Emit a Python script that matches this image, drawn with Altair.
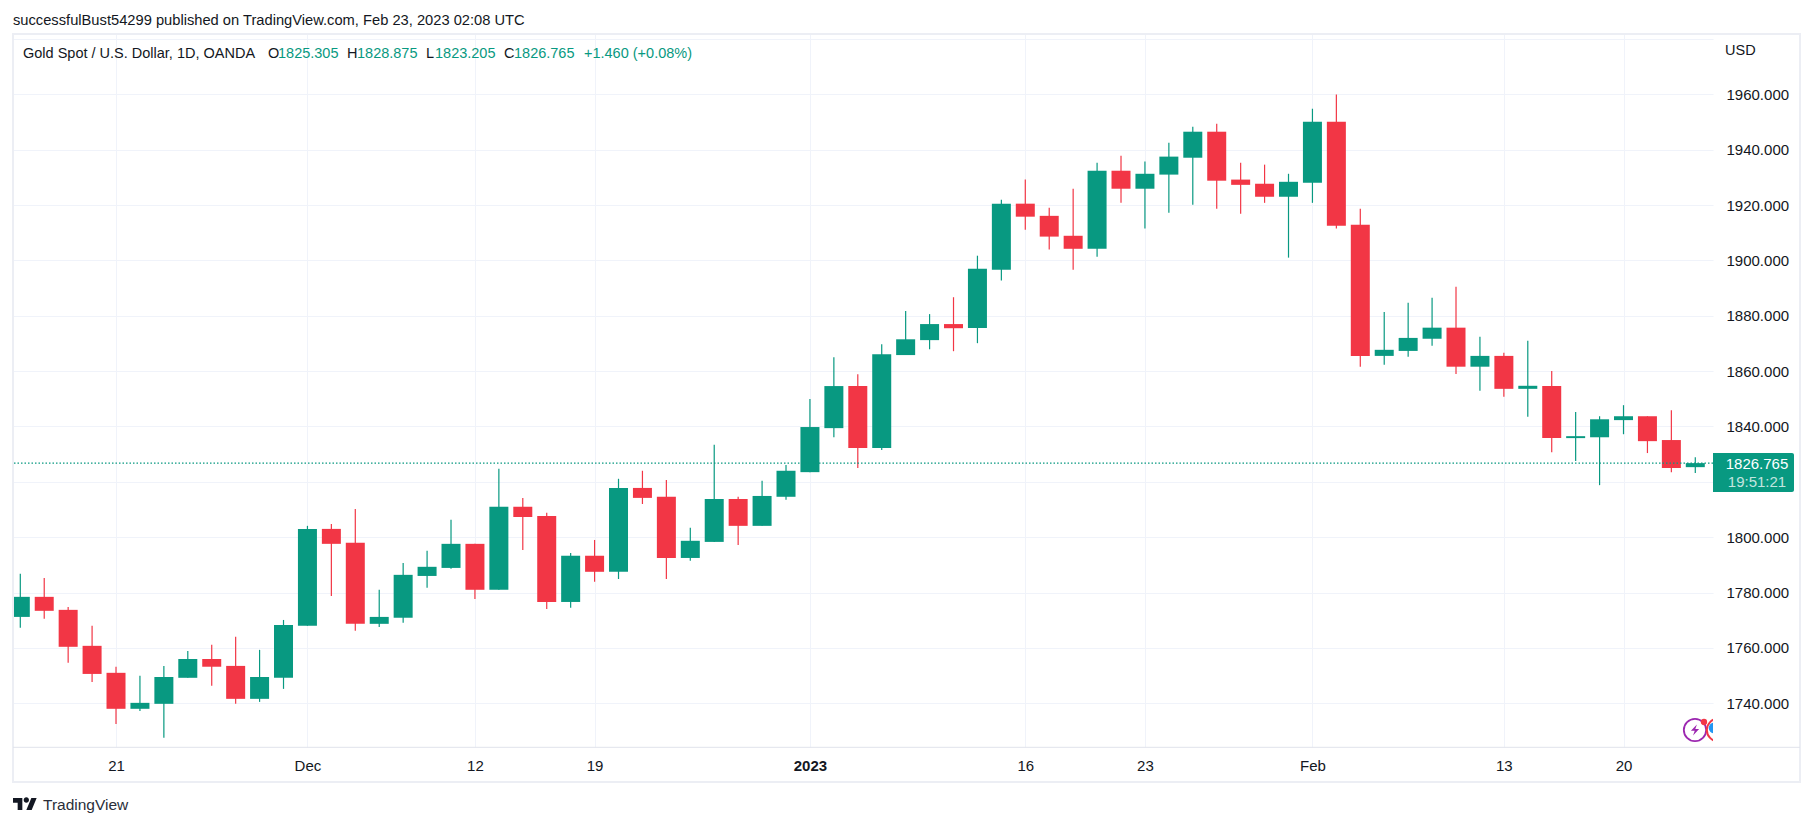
import altair as alt
import pandas as pd

dates = ["Nov 15","Nov 16","Nov 17","Nov 18","Nov 21","Nov 22","Nov 23","Nov 24","Nov 25","Nov 28","Nov 29","Nov 30",
         "Dec 1","Dec 2","Dec 5","Dec 6","Dec 7","Dec 8","Dec 9","Dec 12","Dec 13","Dec 14","Dec 15","Dec 16",
         "Dec 19","Dec 20","Dec 21","Dec 22","Dec 23","Dec 27","Dec 28","Dec 29","Dec 30",
         "Jan 3","Jan 4","Jan 5","Jan 6","Jan 9","Jan 10","Jan 11","Jan 12","Jan 13","Jan 16","Jan 17","Jan 18","Jan 19","Jan 20",
         "Jan 23","Jan 24","Jan 25","Jan 26","Jan 27","Jan 30","Jan 31",
         "Feb 1","Feb 2","Feb 3","Feb 6","Feb 7","Feb 8","Feb 9","Feb 10","Feb 13","Feb 14","Feb 15","Feb 16","Feb 17",
         "Feb 20","Feb 21","Feb 22","Feb 23"]
opens = [1771.2,1778.45,1773.75,1760.75,1751,1738,1739.8,1749.2,1756,1753.5,1741.6,1749.2,1768,1803,1798,1768.7,1770.9,1786,1788.9,1797.6,
         1781,1811,1807.7,1776.6,1793.3,1787.5,1817.8,1814.6,1792.5,1798.3,1813.8,1804.1,1814.6,
         1823.5,1839.4,1854.6,1832.2,1865.8,1871.2,1877,1875.6,1896.6,1920.5,1916.1,1908.9,1904.2,1932.4,
         1925.9,1931,1937.1,1946.5,1929.2,1927.7,1923,
         1928.1,1950.1,1912.9,1865.5,1867.3,1871.7,1875.7,1861.6,1865.5,1853.6,1854.6,1835.8,1836.1,1842.3,1843.7,1835.1,1825.305]
highs = [1786.75,1785.3,1774.8,1768,1753.2,1749.9,1753.5,1758.9,1761.1,1764,1759.3,1770.1,1804.1,1804.8,1810.2,1781,1790.7,1795.1,1806.3,1797.6,
         1824.7,1814.2,1808.8,1794.3,1799,1821.1,1824,1820.7,1803.4,1833.4,1814.6,1820.4,1826.1,
         1849.9,1865,1858.9,1869.7,1881.7,1880.6,1886.7,1901.7,1921.9,1929.2,1919,1925.9,1935.3,1937.8,
         1935.7,1942.5,1948.3,1949.4,1935.3,1934.6,1931.3,
         1954.8,1959.9,1918.7,1881.4,1884.7,1886.5,1890.5,1872.4,1866.6,1871,1860,1845.2,1843.7,1847.7,1843.7,1845.9,1828.875]
lows = [1767.25,1770.5,1754.6,1747.7,1732.5,1737.2,1727.5,1749.2,1746.3,1739.8,1740.5,1745.2,1768,1778.8,1766.2,1767.6,1769.1,1781.7,1788.6,1777.7,
        1781,1795.4,1774.1,1774.5,1783.9,1784.9,1812,1784.9,1791.5,1798.3,1797.2,1804.1,1813.5,
        1823.5,1836.1,1825,1831.5,1865.8,1867.9,1867.2,1870.1,1892.7,1911.1,1903.9,1896.6,1901.3,1920.8,
        1911.5,1917.2,1920.1,1918.7,1916.9,1920.8,1901,
        1920.8,1911.5,1861.6,1862.3,1865.2,1869.2,1859,1852.9,1850.7,1843.5,1830.7,1827.5,1818.8,1837.2,1830.4,1823.5,1823.205]
closes = [1778.45,1773.4,1760.4,1750.6,1738,1740.15,1749.5,1756,1753.2,1741.6,1749.5,1768.3,1803,1797.6,1768.7,1771.2,1786.4,1789.3,1797.6,1781,
          1811,1807.3,1776.6,1793.3,1787.5,1817.8,1814.2,1792.5,1798.7,1813.8,1804.1,1814.9,1824,
          1839.8,1854.6,1832.2,1866.1,1871.5,1877,1875.5,1897,1920.5,1915.8,1908.6,1904.2,1932.4,1925.9,
          1931.3,1937.5,1946.5,1928.8,1927.3,1923,1928.4,
          1950.1,1912.5,1865.5,1867.7,1872,1875.7,1861.6,1865.5,1853.6,1854.7,1835.8,1836.5,1842.6,1843.7,1834.7,1825,1826.765]

y_ticks = [1740,1760,1780,1800,1820,1840,1860,1880,1900,1920,1940,1960,1980]
x_ticks = [4,12,19,24,33,42,47,54,62,67]
x_labels = ["21","Dec","12","19","2023","16","23","Feb","13","20"]
last_price = 1826.765

GREEN, RED = "#089981", "#F23645"
INK, GRID, FRAME, OUTER = "#131722", "#f0f3fa", "#e0e3eb", "#eceef4"
FONT = "Liberation Sans"

df = pd.DataFrame({"idx": range(len(dates)), "date": dates, "open": opens, "high": highs, "low": lows, "close": closes})
df["top"] = df[["open", "close"]].max(axis=1)
df["bot"] = df[["open", "close"]].min(axis=1)
df["dir"] = ["up" if c >= o else "down" for o, c in zip(opens, closes)]

xs = alt.Scale(domain=[-0.305, 70.74], nice=False, zero=False)
ys = alt.Scale(domain=[1724.2, 1981.8], nice=False, zero=False)
cs = alt.Scale(domain=["up", "down"], range=[GREEN, RED])

x_expr = "[" + ",".join(f"'{s}'" for s in x_labels) + "][indexof([" + ",".join(map(str, x_ticks)) + "], datum.value)]"
x_axis = alt.Axis(values=x_ticks, labelExpr=x_expr, title=None, domain=False, ticks=False, grid=True,
                  gridColor=GRID, gridWidth=1.1, labelFont=FONT, labelFontSize=15, labelColor=INK, labelPadding=11,
                  labelFlush=False, labelOverlap=False,
                  labelFontWeight={"condition": {"test": "datum.value == 33", "value": "bold"}, "value": "normal"})
y_axis = alt.Axis(values=y_ticks, orient="right", labelExpr="datum.value > 1970 ? '' : format(datum.value, '.3f')",
                  title=None, domain=False, ticks=False, grid=True, gridColor=GRID, gridWidth=1.1,
                  labelFont=FONT, labelFontSize=15, labelColor=INK, labelPadding=13, labelOverlap=False, labelFlush=False)

base = alt.Chart(df)
wicks = base.mark_rule(strokeWidth=1.2, clip=True).encode(
    x=alt.X("idx:Q", scale=xs, axis=x_axis),
    y=alt.Y("low:Q", scale=ys, axis=y_axis),
    y2="high:Q",
    color=alt.Color("dir:N", scale=cs, legend=None),
)
bodies = base.mark_rule(strokeWidth=19, clip=True).encode(
    x=alt.X("idx:Q", scale=xs), y=alt.Y("bot:Q", scale=ys), y2="top:Q",
    color=alt.Color("dir:N", scale=cs, legend=None),
)
last_line = alt.Chart(pd.DataFrame({"p": [last_price]})).mark_rule(
    color=GREEN, strokeWidth=1.2, strokeDash=[1.5, 2]).encode(y=alt.Y("p:Q", scale=ys))

one = alt.Data(values=[{"a": 1}])

def px(x, y):
    return dict(x=alt.value(x - 13), y=alt.value(y - 34))

def text(s, x, y, color=INK, size=14.5, align="left", weight="normal", opacity=1.0):
    return alt.Chart(one).mark_text(text=s, align=align, baseline="middle", font=FONT, fontSize=size,
                                    color=color, fontWeight=weight, opacity=opacity).encode(**px(x, y))

def hline(x1, x2, y, color, w):
    return alt.Chart(one).mark_rule(color=color, strokeWidth=w).encode(
        x=alt.value(x1 - 13), x2=alt.value(x2 - 13), y=alt.value(y - 34))

def vline(x, y1, y2, color, w):
    return alt.Chart(one).mark_rule(color=color, strokeWidth=w).encode(
        x=alt.value(x - 13), y=alt.value(y1 - 34), y2=alt.value(y2 - 34))

frames = [hline(12, 1801, 34, OUTER, 2), hline(12, 1801, 782, OUTER, 2), vline(13, 33, 783, OUTER, 2),
          vline(1800, 33, 783, OUTER, 2), hline(13, 1800, 747.3, FRAME, 1)]

price_box = alt.Chart(one).mark_rect(color=GREEN, cornerRadiusTopRight=2, cornerRadiusBottomRight=2).encode(
    x=alt.value(1713 - 13), x2=alt.value(1794 - 13), y=alt.value(453 - 34), y2=alt.value(492 - 34))

logo_path = ("M-.222 .5H-.611V-.111H-1V-.5H-.222Z M.556 .5H.111L.528 -.5H.972Z "
             "M.333 -.333A.222 .222 0 1 1 -.111 -.333A.222 .222 0 1 1 .333 -.333Z")
logo = alt.Chart(one).mark_point(shape=logo_path, filled=True, color=INK, size=576, opacity=1, strokeWidth=0).encode(**px(25, 804))

bolt = "M.35 -1L-.75 .15H-.05L-.35 1L.75 -.2H.05Z"
badge = [
    alt.Chart(one).mark_point(shape="circle", filled=False, color="#9c27b0", size=500, strokeWidth=1.8, opacity=1, clip=True).encode(**px(1695, 730)),
    alt.Chart(one).mark_point(shape=bolt, filled=True, color="#9c27b0", size=120, strokeWidth=0, opacity=1, clip=True).encode(**px(1695, 730)),
    alt.Chart(one).mark_point(shape="circle", filled=False, color="#f23645", size=500, strokeWidth=2, opacity=1, clip=True).encode(**px(1718, 730)),
    alt.Chart(one).mark_point(shape="circle", filled=True, color="#2196f3", size=110, strokeWidth=0, opacity=1, clip=True).encode(**px(1714, 728)),
    alt.Chart(one).mark_point(shape="circle", filled=True, color="#f23645", size=40, strokeWidth=0, opacity=1, clip=True).encode(**px(1704, 722)),
]

texts = [
    text("successfulBust54299 published on TradingView.com, Feb 23, 2023 02:08 UTC", 13, 20.5, size=14.7),
    text("Gold Spot / U.S. Dollar, 1D, OANDA", 23, 54, size=14.5),
    text("O", 268, 54), text("1825.305", 278, 54, GREEN),
    text("H", 347, 54), text("1828.875", 357, 54, GREEN),
    text("L", 426, 54), text("1823.205", 435, 54, GREEN),
    text("C", 504, 54), text("1826.765", 514, 54, GREEN),
    text("+1.460 (+0.08%)", 584, 54, GREEN),
    text("USD", 1725, 51),
    text("1826.765", 1757, 464, "#ffffff", size=15, align="center"),
    text("19:51:21", 1757, 482, "#ffffff", size=15, align="center", opacity=0.75),
    text("TradingView", 43, 805, "#2a2e39", size=15.5),
]

chart = alt.layer(wicks, bodies, last_line, *frames, price_box, *badge, logo, *texts).properties(
    width=1700, height=713,
    padding={"left": 5, "top": 26, "right": 90, "bottom": 70},
    autosize="none",
    background="#ffffff",
).configure_view(stroke=None)

chart.save("out.html", embed_options={"renderer": "svg", "actions": False})
